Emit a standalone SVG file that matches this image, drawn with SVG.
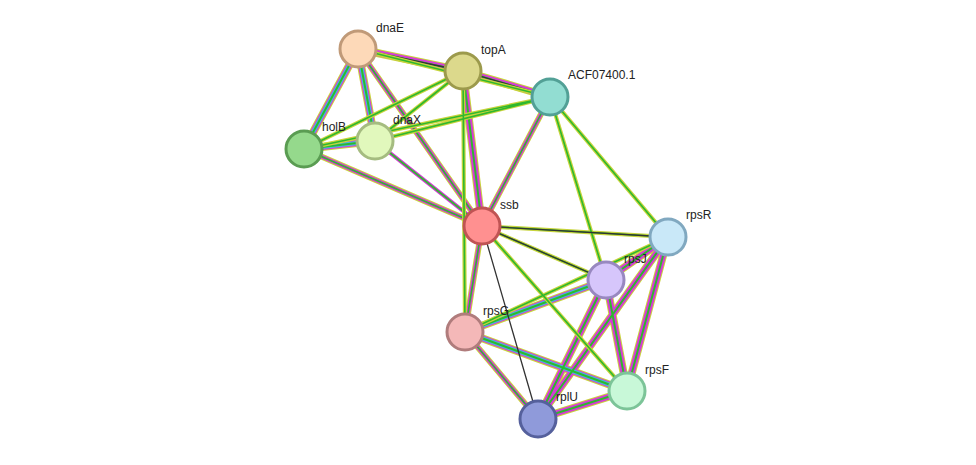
<svg xmlns="http://www.w3.org/2000/svg" width="976" height="465" viewBox="0 0 976 465">
<style>
.y{stroke:#c8d43c;stroke-width:8;fill:none}
.m{stroke:#d63ad6;stroke-width:6;fill:none}
.c{stroke:#40c0e0;stroke-width:4;fill:none}
.g{stroke:#2eb82e;stroke-width:2;fill:none}
.gy{stroke:#c8d43c;stroke-width:4;fill:none}
.gg{stroke:#2eb82e;stroke-width:1.6;fill:none}
.k{stroke:#333;stroke-width:1.3;fill:none}
.n{stroke-width:3}
text{font-family:"Liberation Sans",Arial,sans-serif;font-size:12px;fill:#222}
</style>
<defs>
<g id="dummy"/>
</defs>
<rect width="976" height="465" fill="#fff"/>
<g id="edges">
<!-- full edges -->
<g>
<path class="y" d="M358,49L304,149M358,49L375,141M463,71L550,97M463,71L482,226M304,149L375,141M668,237L606,280M668,237L627,391M668,237L538,419M606,280L465,332M606,280L627,391M606,280L538,419M465,332L627,391M627,391L538,419M358,49L463,71"/>
<path class="m" d="M358,49L304,149M358,49L375,141M463,71L550,97M463,71L482,226M304,149L375,141M668,237L606,280M668,237L627,391M668,237L538,419M606,280L465,332M606,280L627,391M606,280L538,419M465,332L627,391M627,391L538,419M358,49L463,71"/>
<path class="c" d="M358,49L304,149M358,49L375,141M304,149L375,141M606,280L465,332M465,332L627,391"/>
<path class="g" d="M358,49L304,149M358,49L375,141M463,71L550,97M463,71L482,226M304,149L375,141M668,237L606,280M668,237L627,391M668,237L538,419M606,280L465,332M606,280L627,391M606,280L538,419M465,332L627,391M627,391L538,419M358,49L463,71"/>
<path class="k" d="M463,71L550,97M358,49L463,71"/>
</g>
<!-- green/magenta/yellow edges -->
<g>
<path class="y" style="stroke-width:6" d="M358,49L482,226M550,97L482,226M304,149L482,226M482,226L465,332M465,332L538,419"/>
<path class="m" style="stroke-width:4" d="M358,49L482,226M550,97L482,226M304,149L482,226M482,226L465,332M465,332L538,419M375,141L482,226"/>
<path class="gg" d="M358,49L482,226M550,97L482,226M304,149L482,226M482,226L465,332M465,332L538,419M375,141L482,226"/>
</g>
<!-- green/yellow edges -->
<g>
<path class="gy" d="M358,49L550,97M463,71L304,149M463,71L375,141M550,97L304,149M550,97L375,141M550,97L606,280M550,97L668,237M482,226L668,237M482,226L606,280M482,226L627,391M463,71L465,332M668,237L465,332"/>
<path class="gg" d="M358,49L550,97M463,71L304,149M463,71L375,141M550,97L304,149M550,97L375,141M550,97L606,280M550,97L668,237M482,226L668,237M482,226L606,280M482,226L627,391M463,71L465,332M668,237L465,332"/>
<path class="k" d="M482,226L668,237M482,226L606,280M482,226L538,419"/>
</g>
</g>
<g id="dnaE"><circle class="n" cx="358" cy="49" r="18" fill="#fdd9b8" stroke="#c09a78"/><text x="376" y="32">dnaE</text></g>
<g id="topA"><circle class="n" cx="463" cy="71" r="18" fill="#dcd98c" stroke="#9c9a4c"/><text x="481" y="54">topA</text></g>
<g id="ACF07400.1"><circle class="n" cx="550" cy="97" r="18" fill="#92ddd2" stroke="#52a096"/><text x="568" y="79">ACF07400.1</text></g>
<g id="holB"><circle class="n" cx="304" cy="149" r="18" fill="#95d98c" stroke="#5a9c52"/><text x="322" y="131">holB</text></g>
<g id="dnaX"><circle class="n" cx="375" cy="141" r="18" fill="#e1f8bc" stroke="#a5bc80"/><text x="393" y="124">dnaX</text></g>
<g id="ssb"><circle class="n" cx="482" cy="226" r="18" fill="#ff9090" stroke="#c05454"/><text x="500" y="209">ssb</text></g>
<g id="rpsR"><circle class="n" cx="668" cy="237" r="18" fill="#c9e8f8" stroke="#80a8c0"/><text x="686" y="219">rpsR</text></g>
<g id="rpsJ"><circle class="n" cx="606" cy="280" r="18" fill="#d6c6fb" stroke="#9888c0"/><text x="624" y="263">rpsJ</text></g>
<g id="rpsG"><circle class="n" cx="465" cy="332" r="18" fill="#f4b8b8" stroke="#b07c7c"/><text x="483" y="315">rpsG</text></g>
<g id="rpsF"><circle class="n" cx="627" cy="391" r="18" fill="#c8f8d8" stroke="#7cc498"/><text x="645" y="374">rpsF</text></g>
<g id="rplU"><circle class="n" cx="538" cy="419" r="18" fill="#8f9ada" stroke="#55609c"/><text x="556" y="401">rplU</text></g>
</svg>
